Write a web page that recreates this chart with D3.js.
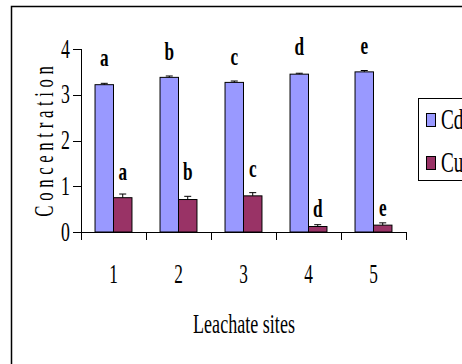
<!DOCTYPE html>
<html><head><meta charset="utf-8">
<script src="https://cdn.jsdelivr.net/npm/d3@7"></script>
<style>body{margin:0;background:#fff}svg{display:block}text{font-family:"Liberation Serif","Times New Roman",serif;fill:#000}</style>
</head><body><svg id="c" width="462" height="364"></svg>
<script>
const sites = ["1","2","3","4","5"];
const seriesNames = ["Cd","Cu"];
const cdValues = [3.22, 3.38, 3.27, 3.45, 3.50];
const cuValues = [0.75, 0.71, 0.79, 0.12, 0.15];
const cdErrors = [0.03, 0.03, 0.03, 0.02, 0.03];
const cuErrors = [0.08, 0.07, 0.07, 0.04, 0.05];
const cdLetters = ["a","b","c","d","e"];
const cuLetters = ["a","b","c","d","e"];
const cdLetterY = [3.63, 3.76, 3.65, 3.87, 3.89];
const cuLetterY = [1.14, 1.14, 1.20, 0.33, 0.35];
const yTicks = [0,1,2,3,4];
const colors = {Cd:"#9999ff", Cu:"#993366"};

const svg = d3.select("#c");
svg.append("rect").attr("width",462).attr("height",364).attr("fill","#fff");
svg.append("rect").attr("x",11.5).attr("y",6.5).attr("width",600).attr("height",500)
  .attr("fill","none").attr("stroke","#000").attr("stroke-width",1.5);

const x0 = d3.scaleBand().domain(sites).range([81,406]).padding(0);
const x1 = d3.scaleBand().domain(seriesNames).range([0,x0.bandwidth()]).paddingInner(0).paddingOuter(0.76);
const y = d3.scaleLinear().domain([0,4]).range([232,49]);

const data = sites.map((s,i)=>({site:s, vals:[
  {k:"Cd", v:cdValues[i], e:cdErrors[i], l:cdLetters[i], ly:cdLetterY[i]},
  {k:"Cu", v:cuValues[i], e:cuErrors[i], l:cuLetters[i], ly:cuLetterY[i]}]}));

// axes
svg.append("line").attr("x1",81.5).attr("x2",81.5).attr("y1",y(4)).attr("y2",y(0)).attr("stroke","#000");
svg.append("line").attr("x1",81).attr("x2",406).attr("y1",y(0)+0.5).attr("y2",y(0)+0.5).attr("stroke","#000");
yTicks.forEach(t=>{
  svg.append("line").attr("x1",73).attr("x2",81).attr("y1",Math.round(y(t))+0.5).attr("y2",Math.round(y(t))+0.5).attr("stroke","#000");
  svg.append("g").attr("transform",`translate(70,${y(t)+8.5}) scale(0.74,1.1)`)
    .append("text").attr("text-anchor","end").attr("font-size",24).text(t);
});
const bounds = sites.map(s=>x0(s)).concat([x0.range()[1]]);
bounds.forEach(b=>{
  svg.append("line").attr("x1",Math.round(b)+0.5).attr("x2",Math.round(b)+0.5).attr("y1",y(0)).attr("y2",y(0)+8).attr("stroke","#000");
});
sites.forEach(s=>{
  svg.append("g").attr("transform",`translate(${x0(s)+x0.bandwidth()/2},283) scale(0.72,1.12)`)
    .append("text").attr("text-anchor","middle").attr("font-size",24).text(s);
});

// bars
const g = svg.selectAll("g.site").data(data).join("g").attr("class","site")
  .attr("transform",d=>`translate(${x0(d.site)},0)`);
g.selectAll("rect").data(d=>d.vals).join("rect")
  .attr("x",d=>x1(d.k)).attr("width",x1.bandwidth())
  .attr("y",d=>y(d.v)).attr("height",d=>y(0)-y(d.v))
  .attr("fill",d=>colors[d.k]).attr("stroke","#000").attr("stroke-width",1);
g.selectAll("line.err").data(d=>d.vals).join("line").attr("class","err")
  .attr("x1",d=>x1(d.k)+x1.bandwidth()/2).attr("x2",d=>x1(d.k)+x1.bandwidth()/2)
  .attr("y1",d=>y(d.v)).attr("y2",d=>y(d.v+d.e)).attr("stroke","#000");
g.selectAll("line.cap").data(d=>d.vals).join("line").attr("class","cap")
  .attr("x1",d=>x1(d.k)+x1.bandwidth()/2-3.5).attr("x2",d=>x1(d.k)+x1.bandwidth()/2+3.5)
  .attr("y1",d=>y(d.v+d.e)).attr("y2",d=>y(d.v+d.e)).attr("stroke","#000");
g.selectAll("g.lbl").data(d=>d.vals).join("g").attr("class","lbl")
  .attr("transform",d=>`translate(${x1(d.k)+x1.bandwidth()/2},${y(d.ly)}) scale(0.78,1.18)`)
  .append("text").attr("text-anchor","middle").attr("font-size",22).attr("font-weight","bold").text(d=>d.l);

// y label
svg.append("g").attr("transform","translate(53,141.5) rotate(-90) scale(0.62,1)")
  .append("text").attr("text-anchor","middle").attr("font-size",27).attr("letter-spacing",7.5).attr("dx",4).text("Concentration");
svg.append("g").attr("transform","translate(244,333) scale(0.67,1.05)")
  .append("text").attr("text-anchor","middle").attr("font-size",27).text("Leachate sites");

// legend
svg.append("rect").attr("x",418.5).attr("y",98.5).attr("width",100).attr("height",82)
  .attr("fill","#fff").attr("stroke","#000");
seriesNames.forEach((s,i)=>{
  const cy = 120 + i*43;
  svg.append("rect").attr("x",426.5).attr("y",cy-6.5).attr("width",9).attr("height",13)
    .attr("fill",colors[s]).attr("stroke","#000");
  svg.append("g").attr("transform",`translate(441,${cy+9}) scale(0.74,1.12)`)
    .append("text").attr("font-size",26).text(s);
});
</script></body></html>
